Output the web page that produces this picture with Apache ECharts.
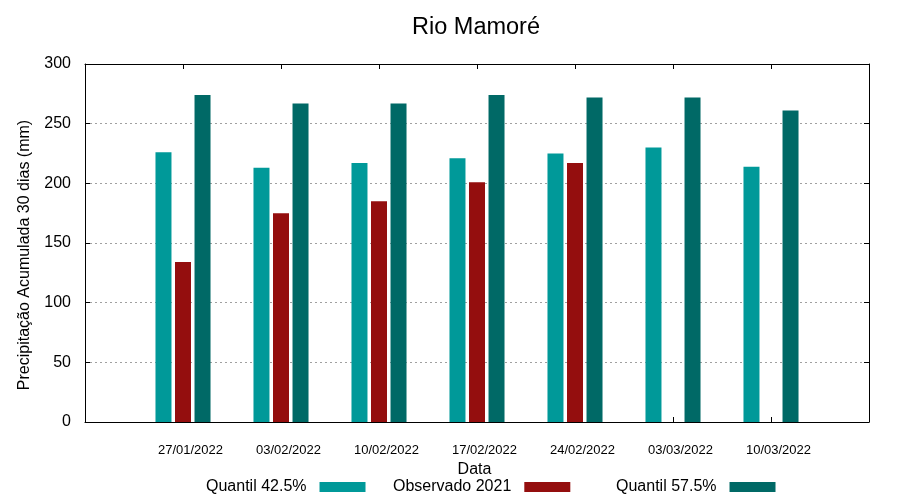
<!DOCTYPE html>
<html>
<head>
<meta charset="utf-8">
<script src="https://cdn.jsdelivr.net/npm/echarts@6/dist/echarts.min.js"></script>
<style>
html,body{margin:0;padding:0;background:#fff;}
#chart{width:900px;height:500px;}
</style>
</head>
<body>
<div id="chart"></div>
<script>
const title = 'Rio Mamoré';
const dates = ['27/01/2022','03/02/2022','10/02/2022','17/02/2022','24/02/2022','03/03/2022','10/03/2022'];
const quantil425 = [226, 213, 217, 221, 225, 230, 214];
const observado2021 = [134, 175, 185, 201, 217, null, null];
const quantil575 = [274, 267, 267, 274, 272, 272, 261];
const seriesNames = ['Quantil 42.5%', 'Observado 2021', 'Quantil 57.5%'];
const yTicks = [0, 50, 100, 150, 200, 250, 300];

const FONT = "'Liberation Sans', Arial, sans-serif";
const colors = ['#009999', '#940e0e', '#006966'];
const pad = arr => [null].concat(arr, [null]);
const cats = [''].concat(dates, ['']);

const chart = echarts.init(document.getElementById('chart'), null, {renderer: 'canvas'});

const tickStyle = {show: true, inside: true, length: 5, lineStyle: {color: '#000', width: 1}};
const lineStyleBlack = {show: true, onZero: false, lineStyle: {color: '#000', width: 1}};

function legendFor(i, left) {
  return {
    data: [seriesNames[i]],
    left: left, top: 479, padding: 0,
    align: 'right', itemWidth: 46, itemHeight: 10, icon: 'rect',
    selectedMode: false,
    textStyle: {fontFamily: FONT, fontSize: 16, color: '#000', padding: [0, 8, 0, 0]}
  };
}

chart.setOption({
  animation: false,
  backgroundColor: '#fff',
  title: {
    text: title, left: 471, top: 11, textAlign: 'center',
    textStyle: {fontFamily: FONT, fontSize: 23.5, fontWeight: 'normal', color: '#000'}
  },
  legend: [legendFor(0, 206), legendFor(1, 393), legendFor(2, 616)],
  grid: {left: 85, right: 31, top: 64, height: 358, containLabel: false},
  xAxis: [
    {
      type: 'category', data: cats, boundaryGap: false, position: 'bottom', z: 1,
      axisLine: lineStyleBlack, axisTick: tickStyle,
      axisLabel: {fontFamily: FONT, fontSize: 13, color: '#000', margin: 22, padding: [0, 0, 0, 15], interval: 0},
      splitLine: {show: false},
      name: 'Data', nameLocation: 'middle', nameGap: 37,
      nameTextStyle: {fontFamily: FONT, fontSize: 16, color: '#000', padding: [0, 5, 0, 0]}
    },
    {
      type: 'category', data: cats, boundaryGap: false, position: 'top', z: 1,
      axisLine: lineStyleBlack, axisTick: tickStyle,
      axisLabel: {show: false}, splitLine: {show: false}
    }
  ],
  yAxis: [
    {
      type: 'value', min: yTicks[0], max: yTicks[yTicks.length - 1], interval: 50, position: 'left',
      axisLine: lineStyleBlack, axisTick: tickStyle,
      axisLabel: {fontFamily: FONT, fontSize: 16, color: '#000', margin: 14},
      splitLine: {show: true, lineStyle: {color: '#a0a0a0', type: [2, 3], width: 1}},
      name: 'Precipitação Acumulada 30 dias (mm)', nameLocation: 'middle', nameGap: 52, nameRotate: 90,
      nameTextStyle: {fontFamily: FONT, fontSize: 16, color: '#000', padding: [0, 24, 0, 0]}
    },
    {
      type: 'value', min: yTicks[0], max: yTicks[yTicks.length - 1], interval: 50, position: 'right',
      axisLine: lineStyleBlack, axisTick: tickStyle,
      axisLabel: {show: false}, splitLine: {show: false}
    }
  ],
  series: [
    {name: seriesNames[0], type: 'bar', data: pad(quantil425), barWidth: 16, barGap: '22%', itemStyle: {color: colors[0]}},
    {name: seriesNames[1], type: 'bar', data: pad(observado2021), barWidth: 16, barGap: '22%', itemStyle: {color: colors[1]}},
    {name: seriesNames[2], type: 'bar', data: pad(quantil575), barWidth: 16, barGap: '22%', itemStyle: {color: colors[2]}}
  ]
});
</script>
</body>
</html>
